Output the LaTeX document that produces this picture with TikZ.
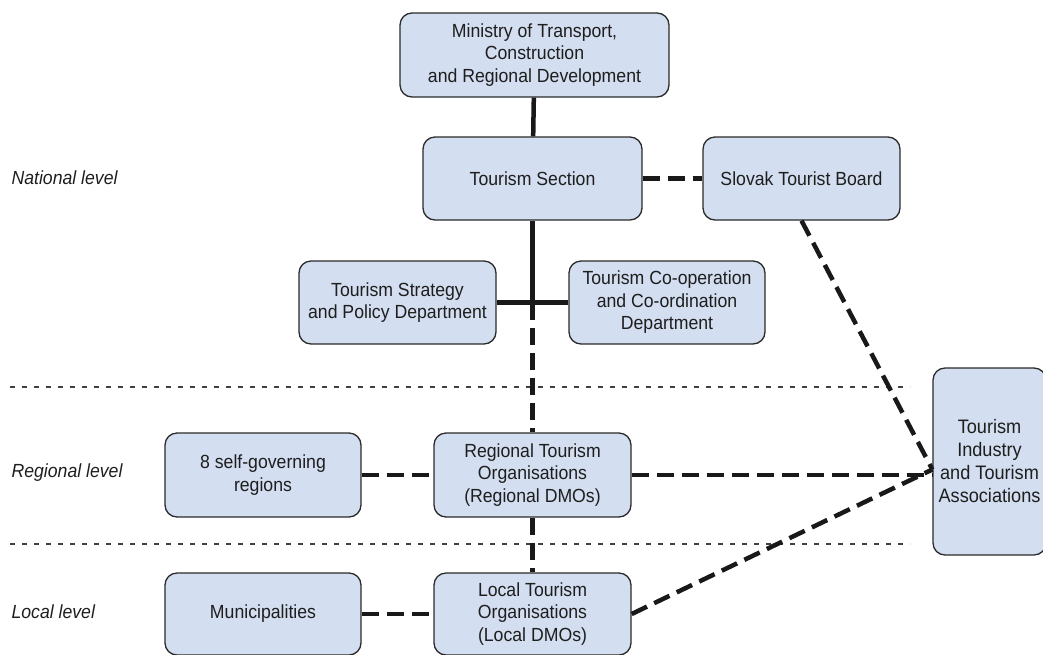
\documentclass[tikz,border=0pt]{standalone}
\usepackage{fontspec}
\setmainfont{Liberation Sans}[FakeStretch=0.93]
\usepackage{xcolor}
\usetikzlibrary{positioning, calc}

\definecolor{boxfill}{HTML}{D3DEF0}
\definecolor{boxline}{HTML}{2A2A2A}
\definecolor{txt}{HTML}{1E1E1E}

\begin{document}
\begin{tikzpicture}[
        x=1pt, y=-1pt,
        % estilos das caixas
        base/.style={
            draw=boxline, fill=boxfill, align=center, rounded corners=12pt,
            line width=1.3pt, text=txt, inner sep=2pt,
            font=\fontsize{19}{22.5}\selectfont
        },
        unit/.style={base, minimum width=197pt, minimum height=83pt},
        % legendas dos níveis
        levellabel/.style={anchor=west, text=txt, font=\fontsize{19}{22}\selectfont\itshape},
        % linhas
        solidlink/.style={line width=4.5pt, draw=black!90},
        dashlink/.style={line width=4.5pt, draw=black!90, dash pattern=on 17pt off 8pt},
        levelline/.style={line width=1.2pt, draw=black!75, dash pattern=on 5pt off 7pt}
    ]
        \useasboundingbox (0,0) rectangle (1043,654);

        % níveis
        \draw[levelline] (10,387) -- (910,387);
        \draw[levelline] (10,544) -- (910,544);
        \node[levellabel] (national) at (8,178) {National level};
        \node[levellabel] (regional) at (8,473) {Regional level};
        \node[levellabel] (local) at (8,612) {Local level};

        % nível nacional
        \node[base, minimum width=269pt, minimum height=84pt] (ministry) at (534.5,55)
            {Ministry of Transport,\\ Construction\\ and Regional Development};
        \node[base, minimum width=219pt, minimum height=83pt] (section) at (532.5,178.5) {Tourism Section};
        \node[unit] (board) at (801.5,178.5) {Slovak Tourist Board};
        \node[unit] (strategy) at (397.5,302.5) {Tourism Strategy\\ and Policy Department};
        \node[unit, minimum width=196pt] (coop) at (667,302.5)
            {Tourism Co-operation\\ and Co-ordination\\ Department};

        % nível regional e local
        \node[unit, minimum width=196pt, minimum height=84pt] (regions) at (263,475) {8 self-governing\\ regions};
        \node[unit, minimum height=84pt] (rto) at (532.5,475)
            {Regional Tourism\\ Organisations\\ (Regional DMOs)};
        \node[unit, minimum width=196pt, minimum height=82pt] (munic) at (263,614) {Municipalities};
        \node[unit, minimum height=82pt] (lto) at (532.5,614)
            {Local Tourism\\ Organisations\\ (Local DMOs)};
        \node[base, minimum width=113pt, minimum height=187pt, inner sep=0pt,
            font=\fontsize{19.5}{23}\selectfont] (industry) at (989.5,461.5)
            {Tourism\\ Industry\\ and Tourism\\ Associations};

        % pontos auxiliares
        \coordinate (fork) at (section.south |- strategy.east);
        \coordinate (meet) at ($(industry.west)+(0,8)$);

        % ligações
        \draw[solidlink] (ministry) -- (section);
        \draw[solidlink] (section) -- (fork);
        \draw[solidlink] (strategy.east) -- (coop.west);
        \draw[dashlink] (fork) -- (rto.north);
        \draw[dashlink] (rto) -- (lto);
        \draw[dashlink] (section) -- (board);
        \draw[dashlink] (regions) -- (rto);
        \draw[dashlink] (munic) -- (lto);
        \draw[dashlink] (rto.east) -- (rto.east -| industry.west);
        \draw[dashlink] (board.south) -- (meet);
        \draw[dashlink] (lto.east) -- (meet);

    \end{tikzpicture}
\end{document}
